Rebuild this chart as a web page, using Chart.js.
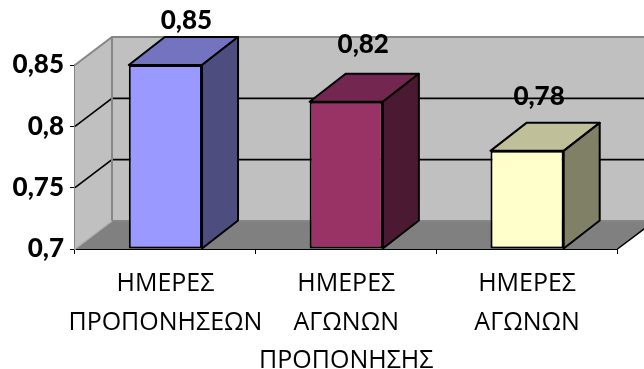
<!DOCTYPE html>
<html>
<head>
<meta charset="utf-8">
<script src="https://cdn.jsdelivr.net/npm/chart.js@4"></script>
<style>
  html, body { margin: 0; padding: 0; background: #fff; overflow: hidden; }
  canvas { display: block; }
</style>
</head>
<body>
<canvas id="chart" width="644" height="369"></canvas>
<script>
const categories = [
  ["ΗΜΕΡΕΣ", "ΠΡΟΠΟΝΗΣΕΩΝ"],
  ["ΗΜΕΡΕΣ", "ΑΓΩΝΩΝ", "ΠΡΟΠΟΝΗΣΗΣ"],
  ["ΗΜΕΡΕΣ", "ΑΓΩΝΩΝ"],
];
const values = [0.85, 0.82, 0.78];
const frontColors = ["#9999ff", "#993366", "#ffffcc"];
const sideColors = ["#4d4d80", "#4c1933", "#808066"];
const topColors = ["#7373bf", "#732650", "#bfbf99"];

const NUM_FONT = "Lato, 'Open Sans', sans-serif";
const CAT_FONT = "'Open Sans', sans-serif";
// depth of the box the bars stand in, and of the bars
const WALL_DX = 37, BAR_DX = 36, DEPTH_DY = 28;
// value labels sit above the bars, the first one is pushed down by the top edge
const labelShift = [[21, 44], [17, 57], [12, 54]];

const comma = (v) => String(parseFloat(Number(v).toFixed(2))).replace(".", ",");

function poly(ctx, pts, fill, stroke, width) {
  ctx.beginPath();
  pts.forEach(([x, y], i) => (i ? ctx.lineTo(x, y) : ctx.moveTo(x, y)));
  ctx.closePath();
  if (fill) { ctx.fillStyle = fill; ctx.fill(); }
  if (stroke) { ctx.strokeStyle = stroke; ctx.lineWidth = width; ctx.lineJoin = "round"; ctx.stroke(); }
}

function line(ctx, pts, color, width) {
  ctx.beginPath();
  pts.forEach(([x, y], i) => (i ? ctx.lineTo(x, y) : ctx.moveTo(x, y)));
  ctx.strokeStyle = color;
  ctx.lineWidth = width;
  ctx.stroke();
}

// side wall, back wall, floor and the gridlines that run round them
const wallsPlugin = {
  id: "walls",
  beforeDatasetsDraw(chart) {
    const ctx = chart.ctx;
    const { left, right, top, bottom } = chart.chartArea;
    const dx = WALL_DX, dy = DEPTH_DY;
    ctx.save();
    poly(ctx, [[left + dx, top - dy], [right + dx, top - dy], [right + dx, bottom - dy], [left + dx, bottom - dy]], "#c0c0c0");
    poly(ctx, [[left, top], [left + dx, top - dy], [left + dx, bottom - dy], [left, bottom]], "#c0c0c0");
    poly(ctx, [[left, bottom], [left + dx, bottom - dy], [right + dx, bottom - dy], [right, bottom]], "#808080");

    chart.scales.y.ticks.forEach((t) => {
      const y = chart.scales.y.getPixelForValue(t.value);
      if (t.value <= 0.701 || t.value >= 0.849) return;
      line(ctx, [[left, y], [left + dx, y - dy], [right + dx, y - dy]], "#000", 1.6);
    });

    line(ctx, [[left, top], [left + dx, top - dy], [right + dx, top - dy]], "#868686", 2);
    line(ctx, [[left + dx, top - dy], [left + dx, bottom - dy], [right + dx, bottom - dy]], "#868686", 2);
    line(ctx, [[left, bottom], [left + dx, bottom - dy]], "#b0b0b0", 1.5);
    line(ctx, [[right, bottom], [right + dx, bottom - dy]], "#000", 1.5);

    // top and side faces of the bars, the front face is the dataset itself
    chart.getDatasetMeta(0).data.forEach((bar, i) => {
      const half = bar.width / 2;
      const l = bar.x - half, r = bar.x + half, t = bar.y, b = bar.base;
      poly(ctx, [[l, t], [l + BAR_DX, t - dy], [r + BAR_DX, t - dy], [r, t]], topColors[i], "#000", 2);
      poly(ctx, [[r, t], [r + BAR_DX, t - dy], [r + BAR_DX, b - dy], [r, b]], sideColors[i], "#000", 2);
    });
    ctx.restore();
  },
  afterDatasetsDraw(chart) {
    const ctx = chart.ctx;
    ctx.save();
    ctx.font = "900 26px " + NUM_FONT;
    ctx.fillStyle = "#000";
    ctx.textAlign = "center";
    ctx.textBaseline = "middle";
    chart.getDatasetMeta(0).data.forEach((bar, i) => {
      ctx.fillText(comma(values[i]), bar.x + labelShift[i][0], bar.y - labelShift[i][1]);
    });
    ctx.restore();
  },
};

new Chart(document.getElementById("chart"), {
  type: "bar",
  data: {
    labels: categories,
    datasets: [{
      data: values,
      base: 0.7,
      backgroundColor: frontColors,
      borderColor: "#000",
      borderWidth: 2,
      borderSkipped: false,
      barPercentage: 1,
      categoryPercentage: 0.405,
      clip: false,
    }],
  },
  options: {
    responsive: false,
    animation: false,
    layout: { padding: { top: 65, right: 26.5, left: 0, bottom: 0 } },
    plugins: { legend: { display: false }, tooltip: { enabled: false } },
    scales: {
      x: {
        afterFit: (scale) => { scale.height = 120; },
        border: { color: "#000", width: 2 },
        grid: { drawOnChartArea: false, drawTicks: true, tickLength: 5, color: "#000" },
        ticks: {
          color: "#000",
          maxRotation: 0,
          autoSkip: false,
          padding: 11,
          font: { family: CAT_FONT, size: 25, lineHeight: 1.54 },
        },
      },
      y: {
        min: 0.7,
        max: 0.85,
        afterFit: (scale) => { scale.width = 75; },
        border: { color: "#868686", width: 2 },
        grid: { drawOnChartArea: false, drawTicks: true, tickLength: 5, color: "#000" },
        ticks: {
          stepSize: 0.05,
          color: "#000",
          padding: 6,
          callback: comma,
          font: { family: NUM_FONT, size: 26, weight: "900" },
        },
      },
    },
  },
  plugins: [wallsPlugin],
});
</script>
</body>
</html>
